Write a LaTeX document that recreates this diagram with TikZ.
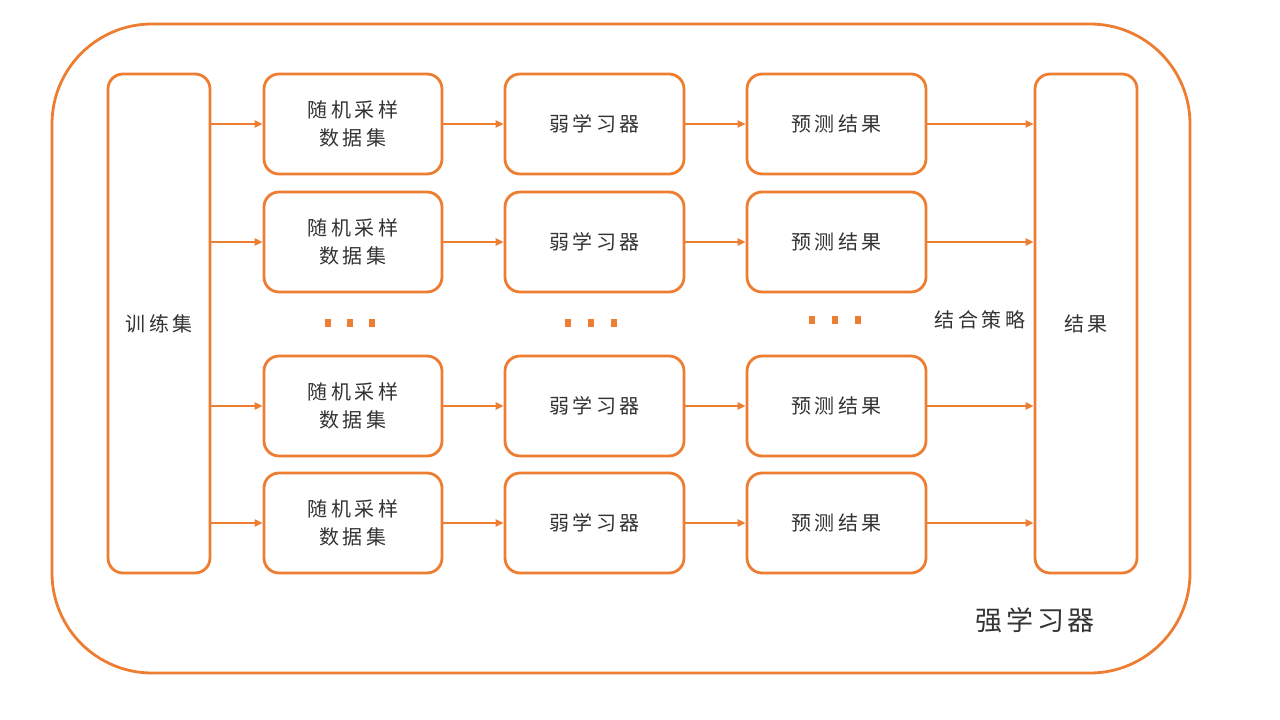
\documentclass[tikz,border=0pt]{standalone}
\usepackage{fontspec}
\setmainfont{Noto Sans CJK SC}
\usetikzlibrary{arrows.meta}
\definecolor{org}{HTML}{ED7D31}
\newcommand{\gp}{\kern3.6pt}
\tikzset{
  box/.style={draw=org, line width=2.8pt, rounded corners=15pt, fill=white, inner sep=0pt, align=center, font=\fontsize{20}{28}\selectfont, text=black!80},
  arr/.style={draw=org, line width=2.4pt, -{Triangle[length=8pt,width=7pt]}},
  dot/.style={fill=org, draw=none, minimum width=6pt, minimum height=8pt, inner sep=0pt},
  lbl/.style={font=\fontsize{20}{24}\selectfont, text=black!80, inner sep=0pt}
}
\begin{document}
\begin{tikzpicture}[x=1pt,y=-1pt]
\useasboundingbox (0,0) rectangle (1280,720);
\draw[org, line width=2.8pt, rounded corners=100pt] (52,24) rectangle (1190,673);
\node[box, minimum width=102pt, minimum height=499pt] (t) at (159,323.5) {训\gp 练\gp 集};
\node[box, minimum width=102pt, minimum height=499pt] (r) at (1086,323.5) {结\gp 果};
\foreach \i/\y in {1/124,2/242,3/406,4/523}{
  \node[box, minimum width=178pt, minimum height=100pt] (a\i) at (353,\y) {随\gp 机\gp 采\gp 样\\数\gp 据\gp 集};
  \node[box, minimum width=179pt, minimum height=100pt] (b\i) at (594.5,\y) {弱\gp 学\gp 习\gp 器};
  \node[box, minimum width=179pt, minimum height=100pt] (c\i) at (836.5,\y) {预\gp 测\gp 结\gp 果};
  \draw[arr] (t.east |- a\i.west) -- (a\i.west);
  \draw[arr] (a\i.east) -- (b\i.west);
  \draw[arr] (b\i.east) -- (c\i.west);
  \draw[arr] (c\i.east) -- (r.west |- c\i.east);
}
\foreach \x/\y/\n in {328/323/1,350/323/2,372/323/3,568/323/4,591/323/5,614/323/6,812/320/7,835/320/8,858/320/9}{
  \node[dot] (d\n) at (\x,\y) {};
}
\node[lbl] (k) at (980,320) {结\gp 合\gp 策\gp 略};
\node[font=\fontsize{27}{30}\selectfont, text=black!80, inner sep=0pt] (s) at (1035,620) {强\kern4pt 学\kern4pt 习\kern4pt 器};
\end{tikzpicture}
\end{document}
